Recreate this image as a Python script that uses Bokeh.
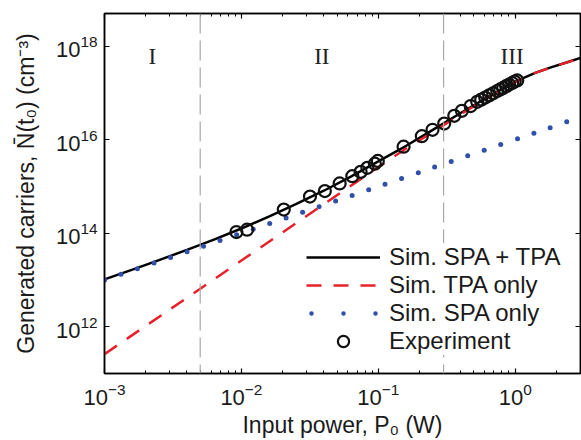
from bokeh.plotting import figure
from bokeh.models import LogAxis, FixedTicker, Span, Legend, LegendItem, CustomJSTickFormatter
from bokeh.core.properties import value
from bokeh.embed import file_html
from bokeh.resources import INLINE

# ---- data ----
# Simulation, SPA + TPA (solid black)
tot_p = [0.001, 0.0016, 0.0025, 0.004, 0.0063, 0.01, 0.016, 0.025, 0.04, 0.063,
         0.1, 0.16, 0.25, 0.4, 0.63, 1.0, 1.4, 1.8, 2.4, 3.0]
tot_n = [1.03e13, 1.66e13, 2.66e13, 4.4e13, 7.3e13, 1.26e14, 2.3e14, 4.2e14, 8.1e14, 1.62e15,
         3.45e15, 7.41e15, 1.62e16, 3.72e16, 8.13e16, 1.74e17, 2.69e17, 3.47e17, 4.52e17, 5.62e17]

# Simulation, TPA only (red dashed)
tpa_p = [0.001, 0.01, 0.1, 0.16, 0.25, 0.4, 0.63, 1.0, 1.4, 1.8, 2.4, 3.0]
tpa_n = [2.6e11, 2.6e13, 2.6e15, 6.5e15, 1.45e16, 3.5e16, 7.9e16, 1.71e17, 2.68e17, 3.46e17, 4.51e17, 5.61e17]

# Simulation, SPA only (blue dots)
spa_p = [0.00100, 0.00132, 0.00174, 0.00230, 0.00304, 0.00401, 0.00529, 0.00698, 0.00923, 0.0122,
         0.0161, 0.0212, 0.0280, 0.0370, 0.0488, 0.0644, 0.0851, 0.112, 0.148, 0.196,
         0.258, 0.341, 0.450, 0.594, 0.784, 1.04, 1.37, 1.80, 2.38]
spa_n = [1.00e13, 1.32e13, 1.74e13, 2.30e13, 3.04e13, 4.01e13, 5.29e13, 6.98e13, 9.23e13, 1.22e14,
         1.61e14, 2.12e14, 2.80e14, 3.70e14, 4.88e14, 6.44e14, 8.51e14, 1.12e15, 1.48e15, 1.96e15,
         2.60e15, 3.43e15, 4.52e15, 5.96e15, 7.86e15, 1.05e16, 1.38e16, 1.81e16, 2.42e16]

# Experiment (open circles)
exp_p = [0.0092, 0.0110, 0.0204, 0.0317, 0.0407, 0.0522, 0.0646, 0.0743, 0.0832, 0.0943,
         0.0992, 0.153, 0.208, 0.249, 0.303, 0.359, 0.408, 0.473, 0.528, 0.565,
         0.604, 0.646, 0.690, 0.739, 0.778, 0.817, 0.859, 0.903, 0.950, 0.991, 1.035]
exp_n = [1.06e14, 1.19e14, 3.2e14, 6.07e14, 7.96e14, 1.16e15, 1.66e15, 2.05e15, 2.50e15, 3.07e15,
         3.51e15, 7.08e15, 1.19e16, 1.63e16, 2.21e16, 3.24e16, 4.15e16, 5.25e16, 6.46e16, 7.19e16,
         7.96e16, 8.87e16, 9.84e16, 1.10e17, 1.19e17, 1.28e17, 1.40e17, 1.51e17, 1.63e17, 1.75e17, 1.85e17]

# Regime boundaries and labels
boundaries = [0.005, 0.3]
region_labels = ["I", "II", "III"]
region_x = [0.00224, 0.0387, 0.949]
region_y = [6e17, 6e17, 6e17]

# Ticks
x_major = [1e-3, 1e-2, 1e-1, 1e0]
x_minor = [2e-3, 3e-3, 4e-3, 5e-3, 6e-3, 7e-3, 8e-3, 9e-3,
           2e-2, 3e-2, 4e-2, 5e-2, 6e-2, 7e-2, 8e-2, 9e-2,
           0.2, 0.3, 0.4, 0.5, 0.6, 0.7, 0.8, 0.9, 2.0, 3.0]
y_major = [1e12, 1e14, 1e16, 1e18]

legend_labels = ["Sim. SPA + TPA", "Sim. TPA only", "Sim. SPA only", "Experiment"]

BLUE = "#2f4fa8"
RED = "#e8202a"
SANS = "Liberation Sans"

p = figure(width=581, height=440, x_axis_type="log", y_axis_type="log",
           x_range=(1e-3, 3.0), y_range=(1e11, 5e18),
           output_backend="svg", toolbar_location=None,
           min_border_left=104, min_border_right=1, min_border_top=13, min_border_bottom=67)
p.grid.visible = False
p.outline_line_color = "black"
p.outline_line_width = 1.5
p.background_fill_color = "white"
p.border_fill_color = "white"

def style_axis(ax, ticks, minor, labels=True):
    ax.ticker = FixedTicker(ticks=ticks, minor_ticks=minor)
    ax.axis_line_color = "black"
    ax.axis_line_width = 1.5
    ax.major_tick_line_color = "black"
    ax.minor_tick_line_color = "black"
    ax.major_tick_line_width = 1.2
    ax.minor_tick_line_width = 1.0
    ax.major_tick_in = 5
    ax.major_tick_out = 0
    ax.minor_tick_in = 3
    ax.minor_tick_out = 0
    ax.major_label_text_font = SANS
    ax.major_label_text_color = "#1a1a1a"
    ax.major_label_text_font_size = "22px"
    if not labels:
        ax.formatter = CustomJSTickFormatter(code="return ''")
        ax.major_label_standoff = 0

xa = p.xaxis[0]
ya = p.yaxis[0]
style_axis(xa, x_major, x_minor)
style_axis(ya, y_major, [])
xa.major_label_standoff = 9
ya.major_label_standoff = 7

xa.axis_label = "Input power, P\u2080 (W)"
ya.axis_label = "Generated carriers, N\u0304(t\u2080) (cm\u207b\u00b3)"
for ax in (xa, ya):
    ax.axis_label_text_font = SANS
    ax.axis_label_text_font_style = "normal"
    ax.axis_label_text_font_size = "23px"
    ax.axis_label_text_color = "#1a1a1a"
xa.axis_label_standoff = 4
ya.axis_label_standoff = 14

top = LogAxis()
style_axis(top, x_major, x_minor, labels=False)
p.add_layout(top, "above")
right = LogAxis()
style_axis(right, y_major, [], labels=False)
p.add_layout(right, "right")

# regime boundaries
for b in boundaries:
    p.add_layout(Span(location=b, dimension="height", line_color="#a8a8a8",
                      line_width=1.2, line_dash="20 7"))

r_tot = p.line(tot_p, tot_n, line_color="black", line_width=2.5)
r_tpa = p.line(tpa_p, tpa_n, line_color=RED, line_width=2.5, line_dash="15 12")
r_spa = p.scatter(spa_p, spa_n, marker="circle", size=5, fill_color=BLUE, line_color=None)
r_exp = p.scatter(exp_p, exp_n, marker="circle", size=12, fill_color=None,
                  line_color="#111111", line_width=2.2)
# legend swatch for the dotted SPA series (hidden in the plot itself)
r_spa_leg = p.line(spa_p, spa_n, line_color=BLUE, line_width=4.5, line_dash="0 32",
                   line_dash_offset=-5, line_cap="round", visible=False)

p.text(x=region_x, y=region_y, text=region_labels, text_font=value("Liberation Serif"),
       text_font_size="23px", text_align="center", text_baseline="middle", text_color="#222222")

legend = Legend(items=[LegendItem(label=legend_labels[0], renderers=[r_tot]),
                       LegendItem(label=legend_labels[1], renderers=[r_tpa]),
                       LegendItem(label=legend_labels[2], renderers=[r_spa_leg]),
                       LegendItem(label=legend_labels[3], renderers=[r_exp])],
                location=(202, 18), orientation="vertical",
                glyph_width=74, glyph_height=28, label_height=28, spacing=0,
                padding=6, margin=0, label_standoff=9,
                label_text_font=SANS, label_text_font_size="24px", label_text_color="#1a1a1a",
                border_line_color=None, background_fill_color="white", background_fill_alpha=1.0,
                inactive_fill_alpha=0.0)
p.add_layout(legend)

open("out.html", "w").write(file_html(p, INLINE))
